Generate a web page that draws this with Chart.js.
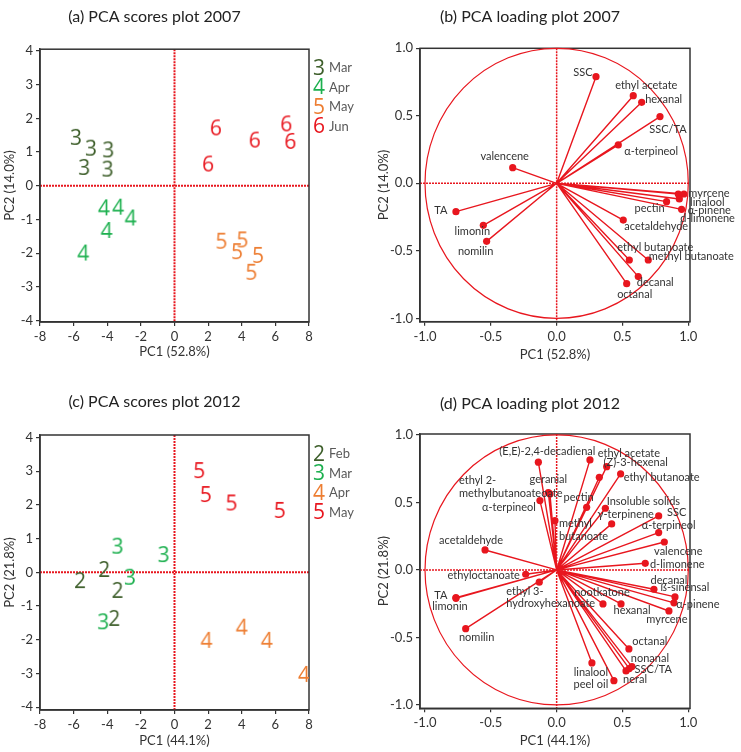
<!DOCTYPE html>
<html>
<head>
<meta charset="utf-8">
<script src="https://cdn.jsdelivr.net/npm/chart.js@4.4.0/dist/chart.umd.min.js"></script>
<style>
  body { margin: 0; background: #fff; }
  canvas { position: absolute; }
</style>
</head>
<body>
<canvas id="cA" width="370" height="376" style="left:0;top:0"></canvas>
<canvas id="cB" width="371" height="376" style="left:370px;top:0"></canvas>
<canvas id="cC" width="370" height="376" style="left:0;top:376px"></canvas>
<canvas id="cD" width="371" height="376" style="left:370px;top:376px"></canvas>
<script>
// ---- (a) scores 2007 ----
const codes07 = ['3', '4', '5', '6'];
const months07 = ['Mar', 'Apr', 'May', 'Jun'];
const pc1_07 = [
  [-5.86, -4.97, -3.94, -5.37, -3.98],
  [-4.20, -3.35, -2.61, -4.04, -5.43],
  [2.79, 4.04, 3.72, 4.97, 4.57],
  [2.46, 4.77, 6.65, 6.89, 2.00]
];
const pc2_07 = [
  [1.45, 1.13, 1.08, 0.56, 0.51],
  [-0.64, -0.62, -0.94, -1.31, -1.98],
  [-1.63, -1.59, -1.94, -2.05, -2.55],
  [1.73, 1.37, 1.85, 1.33, 0.66]
];

// ---- (c) scores 2012 ----
const codes12 = ['2', '3', '4', '5'];
const months12 = ['Feb', 'Mar', 'Apr', 'May'];
const pc1_12 = [
  [-5.62, -4.18, -3.39, -3.58],
  [-3.39, -2.65, -0.65, -4.24],
  [1.90, 4.00, 5.49, 7.70],
  [1.47, 1.86, 3.39, 6.26]
];
const pc2_12 = [
  [-0.23, 0.10, -0.52, -1.35],
  [0.79, -0.13, 0.54, -1.45],
  [-2.00, -1.61, -2.00, -3.01],
  [3.03, 2.32, 2.07, 1.85]
];

// ---- (b) loadings 2007 ----
const vars07 = ['SSC', 'ethyl acetate', 'hexanal', 'SSC/TA', 'α-terpineol', 'valencene', 'TA', 'limonin',
  'nomilin', 'myrcene', 'α-pinene', 'linalool', 'd-limonene', 'pectin', 'acetaldehyde', 'ethyl butanoate',
  'methyl butanoate', 'decanal', 'octanal'];
const load1_07 = [0.299, 0.582, 0.646, 0.785, 0.468, -0.334, -0.765, -0.557,
  -0.532, 0.967, 0.924, 0.932, 0.949, 0.835, 0.506, 0.552,
  0.696, 0.620, 0.532];
const load2_07 = [0.790, 0.649, 0.600, 0.494, 0.284, 0.116, -0.210, -0.311,
  -0.430, -0.079, -0.079, -0.116, -0.193, -0.136, -0.272, -0.568,
  -0.568, -0.691, -0.743];

// ---- (d) loadings 2012 ----
const vars12 = ['(E,E)-2,4-decadienal', 'ethyl acetate', '(Z)-3-hexenal', 'ethyl butanoate', '',
  'geranial', 'ethyl 2-\nmethylbutanoateoate', 'α-terpineol', 'methyl\nbutanoate', 'pectin',
  'Insoluble solids', 'γ-terpinene', 'SSC', 'α-terpineol', 'valencene', 'd-limonene', 'decanal',
  'ß-sinensal', 'α-pinene', 'myrcene', 'nootkatone', 'hexanal', 'octanal', 'nonanal', 'SSC/TA',
  'neral', 'linalool', 'peel oil', 'acetaldehyde', 'ethyloctanoate', 'ethyl 3-\nhydroxyhexanoate',
  'TA', 'limonin', 'nomilin'];
const load1_12 = [-0.139, 0.253, 0.380, 0.486, 0.324,
  -0.063, -0.051, -0.127, -0.013, 0.228,
  0.370, 0.418, 0.775, 0.775, 0.818, 0.673, 0.739,
  0.899, 0.891, 0.853, 0.352, 0.489, 0.549, 0.572, 0.552,
  0.527, 0.268, 0.435, -0.544, -0.235, -0.132,
  -0.765, -0.765, -0.691];
const load2_12 = [0.798, 0.815, 0.765, 0.711, 0.686,
  0.573, 0.563, 0.514, 0.365, 0.464,
  0.457, 0.341, 0.400, 0.277, 0.207, 0.049, -0.143,
  -0.200, -0.244, -0.304, -0.252, -0.252, -0.585, -0.716, -0.731,
  -0.748, -0.689, -0.820, 0.148, -0.032, -0.091,
  -0.205, -0.210, -0.435];

// label placement (pixels from the dot): [dx, dy, align]
const lab07 = [[-13, -4], [13, -10], [22, -3], [8, 13], [33, 6], [-8, -11], [-15, -1], [-11, 6],
  [-11, 10], [25, -1], [31, 16], [28, 3], [26, 9], [-17, 7], [33, 6], [26, -13],
  [43, -4], [17, 6], [8, 11]];
const lab12 = [[9, -11], [39, -6], [29, -4], [41, 3], [0, 0],
  [0, -13], [-91, -13, 'left'], [-31, 7], [4, 3, 'left'], [-8, -10],
  [38, -7], [14, -9], [18, -3], [10, -7], [14, 9], [32, 1], [15, -9],
  [10, -9], [24, 2], [-2, 8], [-1, -11], [11, 7], [21, -7], [18, -8], [24, 1],
  [9, 9], [-1, 10], [-23, 4], [-14, -10], [-42, 1], [-33, 9, 'left'],
  [-15, -2], [-6, 8], [11, 9]];

const RED = '#E8161E';
const COLS = ['#3E5F2B', '#1DB04F', '#ED7D31', RED];
const FONT = 'Lato, "Open Sans", sans-serif';
const DIGIT = '21px "Open Sans", sans-serif';
const TXT = '#333';

function digitImg(ch, color) {
  const c = document.createElement('canvas');
  c.width = 20; c.height = 26;
  const g = c.getContext('2d');
  g.font = DIGIT;
  g.fillStyle = color;
  g.textAlign = 'center';
  g.textBaseline = 'alphabetic';
  g.fillText(ch, 10, 13 + 7.5);
  return c;
}

function scale(pos, min, max, step, text, size, tpad, fmt) {
  return {
    type: 'linear', position: pos, min: min, max: max,
    ticks: { stepSize: step, includeBounds: false, color: TXT, padding: 3, maxRotation: 0, autoSkip: false,
      font: { family: FONT, size: 13 }, callback: fmt },
    grid: { drawOnChartArea: false, drawTicks: true, tickLength: 4, tickColor: '#333', lineWidth: 1.2 },
    border: { display: true, color: '#333', width: 1.5 },
    title: { display: true, text: text, color: TXT, font: { family: FONT, size: 13 }, padding: tpad },
    afterFit: s => { if (pos === 'bottom') s.height = size; else s.width = size; }
  };
}

const framePlugin = {
  id: 'frame',
  beforeDatasetsDraw(chart) {
    const a = chart.chartArea, ctx = chart.ctx;
    const x0 = chart.scales.x.getPixelForValue(0), y0 = chart.scales.y.getPixelForValue(0);
    ctx.save();
    ctx.strokeStyle = RED;
    ctx.lineWidth = chart.options.crossWidth;
    ctx.setLineDash([2, 1]);
    ctx.beginPath();
    ctx.moveTo(a.left, y0); ctx.lineTo(a.right, y0);
    ctx.moveTo(x0, a.top); ctx.lineTo(x0, a.bottom);
    ctx.stroke();
    ctx.setLineDash([]);
    ctx.strokeStyle = '#333';
    ctx.lineWidth = 1.5;
    ctx.strokeRect(a.left, a.top, a.right - a.left, a.bottom - a.top);
    ctx.restore();
  }
};

function scoresChart(id, codes, months, xs, ys, title, xt, yt, lay) {
  const datasets = codes.map((c, i) => ({
    label: months[i],
    data: xs[i].map((v, j) => ({ x: v, y: ys[i][j] })),
    pointStyle: digitImg(c, COLS[i]),
    pointRadius: 6
  }));
  const legendPlugin = {
    id: 'monthLegend',
    afterDraw(chart) {
      const a = chart.chartArea, ctx = chart.ctx;
      ctx.save();
      codes.forEach((c, i) => {
        const y = a.top + 18 + i * 19.5;
        ctx.font = DIGIT;
        ctx.fillStyle = COLS[i];
        ctx.textAlign = 'center';
        ctx.textBaseline = 'alphabetic';
        ctx.fillText(c, a.right + 10, y + 7.5);
        ctx.font = '13px ' + FONT;
        ctx.fillStyle = '#595959';
        ctx.textAlign = 'left';
        ctx.textBaseline = 'middle';
        ctx.fillText(months[i], a.right + 20, y + 1);
      });
      ctx.restore();
    }
  };
  return new Chart(document.getElementById(id), {
    type: 'scatter',
    data: { datasets: datasets },
    options: {
      responsive: false,
      animation: false,
      crossWidth: 2,
      layout: { padding: { top: 0, left: 0, right: 61, bottom: lay.bottom } },
      plugins: {
        legend: { display: false },
        tooltip: { enabled: false },
        title: { display: true, text: title, color: '#222', font: { family: FONT, size: 16, weight: 'normal' },
          padding: { top: lay.tTop, bottom: lay.tBottom } }
      },
      scales: {
        x: scale('bottom', -8, 8, 2, xt, lay.xh, { top: 0, bottom: lay.xtp }),
        y: scale('left', lay.ymin, lay.ymax, 1, yt, 40, { top: 2.2, bottom: 0 })
      }
    },
    plugins: [framePlugin, legendPlugin]
  });
}

function loadingChart(id, names, l1, l2, pos, title, xt, yt, lay) {
  const vecPlugin = {
    id: 'vectors',
    beforeDatasetsDraw(chart) {
      const ctx = chart.ctx, sx = chart.scales.x, sy = chart.scales.y;
      const cx = sx.getPixelForValue(0), cy = sy.getPixelForValue(0);
      const rx = sx.getPixelForValue(1) - cx, ry = cy - sy.getPixelForValue(1);
      ctx.save();
      ctx.strokeStyle = RED;
      ctx.lineWidth = 1.2;
      ctx.beginPath();
      ctx.ellipse(cx, cy, rx, ry, 0, 0, Math.PI * 2);
      ctx.stroke();
      ctx.lineWidth = 1.4;
      ctx.beginPath();
      chart.getDatasetMeta(0).data.forEach(pt => {
        ctx.moveTo(cx, cy);
        ctx.lineTo(pt.x, pt.y);
      });
      ctx.stroke();
      ctx.restore();
    },
    afterDatasetsDraw(chart) {
      const ctx = chart.ctx;
      ctx.save();
      ctx.font = '11px ' + FONT;
      ctx.fillStyle = TXT;
      ctx.textBaseline = 'middle';
      chart.getDatasetMeta(0).data.forEach((pt, i) => {
        const p = pos[i];
        ctx.textAlign = p[2] || 'center';
        names[i].split('\n').forEach((line, k) => {
          ctx.fillText(line, pt.x + p[0], pt.y + p[1] + k * 12.5);
        });
      });
      ctx.restore();
    }
  };
  const fmt = v => v.toFixed(1);
  return new Chart(document.getElementById(id), {
    type: 'scatter',
    data: { datasets: [{
      label: 'loadings',
      data: l1.map((v, i) => ({ x: v, y: l2[i] })),
      pointRadius: 3.6,
      backgroundColor: RED,
      borderWidth: 0
    }] },
    options: {
      responsive: false,
      animation: false,
      crossWidth: 1.5,
      layout: { padding: { top: 0, left: 0, right: 51, bottom: lay.bottom } },
      plugins: {
        legend: { display: false },
        tooltip: { enabled: false },
        title: { display: true, text: title, color: '#222', font: { family: FONT, size: 16, weight: 'normal' },
          padding: { top: lay.tTop, bottom: lay.tBottom } }
      },
      scales: {
        x: scale('bottom', -1.038, 1.013, 0.5, xt, lay.xh, { top: 0, bottom: lay.xtp }, fmt),
        y: scale('left', -1.025, lay.ymax, 0.5, yt, 50, { top: 6, bottom: 0 }, fmt)
      }
    },
    plugins: [framePlugin, vecPlugin]
  });
}

scoresChart('cA', codes07, months07, pc1_07, pc2_07, '(a) PCA scores plot 2007', 'PC1 (52.8%)', 'PC2 (14.0%)',
  { bottom: 10, tTop: 7, tBottom: 23, xh: 44, xtp: 6.5, ymin: -4.04, ymax: 4.05 });
scoresChart('cC', codes12, months12, pc1_12, pc2_12, '(c) PCA scores plot 2012', 'PC1 (44.1%)', 'PC2 (21.8%)',
  { bottom: 0, tTop: 16, tBottom: 23.8, xh: 42, xtp: 3.5, ymin: -4.08, ymax: 4.07 });
loadingChart('cB', vars07, load1_07, load2_07, lab07, '(b) PCA loading plot 2007', 'PC1 (52.8%)', 'PC2 (14.0%)',
  { bottom: 10, tTop: 7, tBottom: 22.1, xh: 44.3, xtp: 3.2, ymax: 1.0 });
loadingChart('cD', vars12, load1_12, load2_12, lab12, '(d) PCA loading plot 2012', 'PC1 (44.1%)', 'PC2 (21.8%)',
  { bottom: 0, tTop: 18.4, tBottom: 20.4, xh: 43.7, xtp: 3.5, ymax: 1.007 });
</script>
</body>
</html>
